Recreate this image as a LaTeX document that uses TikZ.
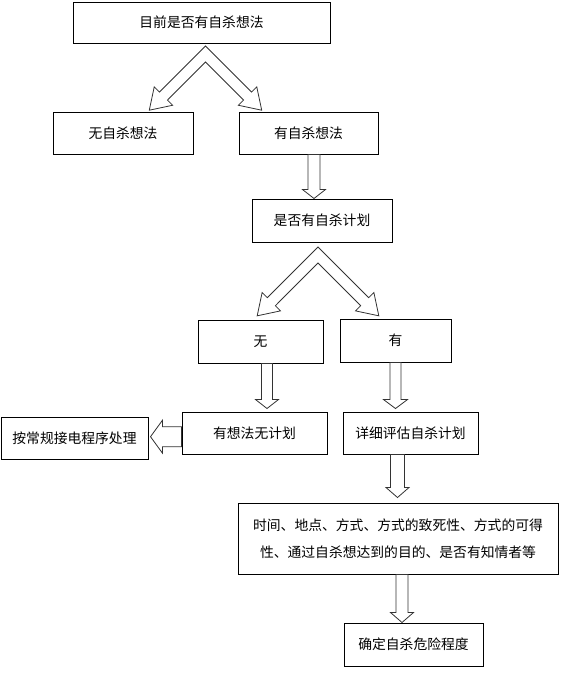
\documentclass[tikz,border=0pt]{standalone}
\usepackage{fontspec}
\setmainfont{Noto Sans CJK SC}
\usetikzlibrary{calc}

% Hollow block arrow from #1 to #2, shaft half width #3, head half width #4,
% head length #5.
\newcommand{\fatarrow}[5]{%
    \coordinate (fa-s) at #1;
    \coordinate (fa-e) at #2;
    \coordinate (fa-b) at ($(fa-e)!#5pt!(fa-s)$);
    \draw[fatline] ($(fa-s)!#3pt!90:(fa-e)$)
        -- ($(fa-b)!#3pt!90:(fa-e)$)
        -- ($(fa-b)!#4pt!90:(fa-e)$)
        -- (fa-e)
        -- ($(fa-b)!#4pt!-90:(fa-e)$)
        -- ($(fa-b)!#3pt!-90:(fa-e)$)
        -- ($(fa-s)!#3pt!-90:(fa-e)$)
        -- cycle;
}

% Hollow forked arrow with apex #1 and arms of length #2.
\newcommand{\forkarrow}[2]{%
    \pgfmathsetmacro{\armbase}{#2-20}
    \draw[fatline] ($(#1)+(0,-8)$)
        -- ($(#1)+(45:\armbase)+(-45:5.7)$)
        -- ($(#1)+(45:\armbase)+(-45:13)$)
        -- ($(#1)+(45:#2)$)
        -- ($(#1)+(45:\armbase)+(135:13)$)
        -- ($(#1)+(45:\armbase)+(135:5.7)$)
        -- ($(#1)+(0,8)$)
        -- ($(#1)+(135:\armbase)+(45:5.7)$)
        -- ($(#1)+(135:\armbase)+(45:13)$)
        -- ($(#1)+(135:#2)$)
        -- ($(#1)+(135:\armbase)+(-135:13)$)
        -- ($(#1)+(135:\armbase)+(-135:5.7)$)
        -- cycle;
}

\begin{document}
\begin{tikzpicture}[%
        x = 1pt,
        y = -1pt,
        box/.style = {draw, line width = 1pt, inner sep = 2pt,
            font = \fontsize{13.8}{27}\selectfont, align = center},
        fatline/.style = {draw = black!80, fill = white, line width = 0.8pt},
    ]

        % Fix the size of the page.
        \useasboundingbox (0, 0) rectangle (575, 678);

        % Position of the boxes.
        \node (ideation) at (201.5, 22.5) [box, minimum width = 257pt, minimum height = 41pt] {目前是否有自杀想法};
        \node (noidea) at (123, 133) [box, minimum width = 140pt, minimum height = 42pt] {无自杀想法};
        \node (idea) at (308.5, 133) [box, minimum width = 139pt, minimum height = 42pt] {有自杀想法};
        \node (planq) at (322, 220.5) [box, minimum width = 140pt, minimum height = 43pt] {是否有自杀计划};
        \node (noplan) at (260.5, 341.5) [box, minimum width = 125pt, minimum height = 43pt] {无};
        \node (hasplan) at (395.5, 340.5) [box, minimum width = 111pt, minimum height = 43pt] {有};
        \node (ideaonly) at (254.5, 433) [box, minimum width = 145pt, minimum height = 42pt] {有想法无计划};
        \node (assess) at (410.5, 433) [box, minimum width = 135pt, minimum height = 42pt] {详细评估自杀计划};
        \node (routine) at (74.5, 438) [box, minimum width = 147pt, minimum height = 42pt] {按常规接电程序处理};
        \node (details) at (398, 538.5) [box, minimum width = 320pt, minimum height = 71pt]
            {时间、地点、方式、方式的致死性、方式的可得\\性、通过自杀想达到的目的、是否有知情者等};
        \node (risk) at (413.5, 644.5) [box, minimum width = 139pt, minimum height = 43pt] {确定自杀危险程度};

        % Apexes of the forked arrows.
        \coordinate (fork1) at ([xshift = 4pt, yshift = -10.5pt]ideation.south);
        \coordinate (fork2) at ([xshift = -4pt, yshift = -12.5pt]planq.south);

        % Draw the forked arrows.
        \forkarrow{fork1}{79.5}
        \forkarrow{fork2}{86}

        % Start and end of the straight arrows.
        \coordinate (a1) at ([xshift = 5.5pt]idea.south);
        \coordinate (a1e) at (a1 |- planq.north);
        \coordinate (a2) at ([xshift = 6.5pt]noplan.south);
        \coordinate (a2e) at ($(a2 |- ideaonly.north) + (0, -3)$);
        \coordinate (a3) at (hasplan.south);
        \coordinate (a3e) at ($(a3 |- assess.north) + (0, -3)$);
        \coordinate (a4) at ([xshift = -13pt]assess.south);
        \coordinate (a4e) at ($(a4 |- details.north) + (0, -5)$);
        \coordinate (a5) at ([xshift = 4pt]details.south);
        \coordinate (a5e) at (a5 |- risk.north);
        \coordinate (a6) at ([yshift = -3.7pt]ideaonly.west);
        \coordinate (a6e) at ($(a6 -| routine.east) + (2, 0)$);

        % Draw the straight arrows.
        \fatarrow{(a1)}{(a1e)}{6}{11.5}{9}
        \fatarrow{(a2)}{(a2e)}{5.5}{11.5}{9}
        \fatarrow{(a3)}{(a3e)}{5.5}{12}{9}
        \fatarrow{(a4)}{(a4e)}{7}{11.5}{10}
        \fatarrow{(a5)}{(a5e)}{6}{11.5}{10}
        \fatarrow{(a6)}{(a6e)}{10}{16.5}{12}
    \end{tikzpicture}
\end{document}
